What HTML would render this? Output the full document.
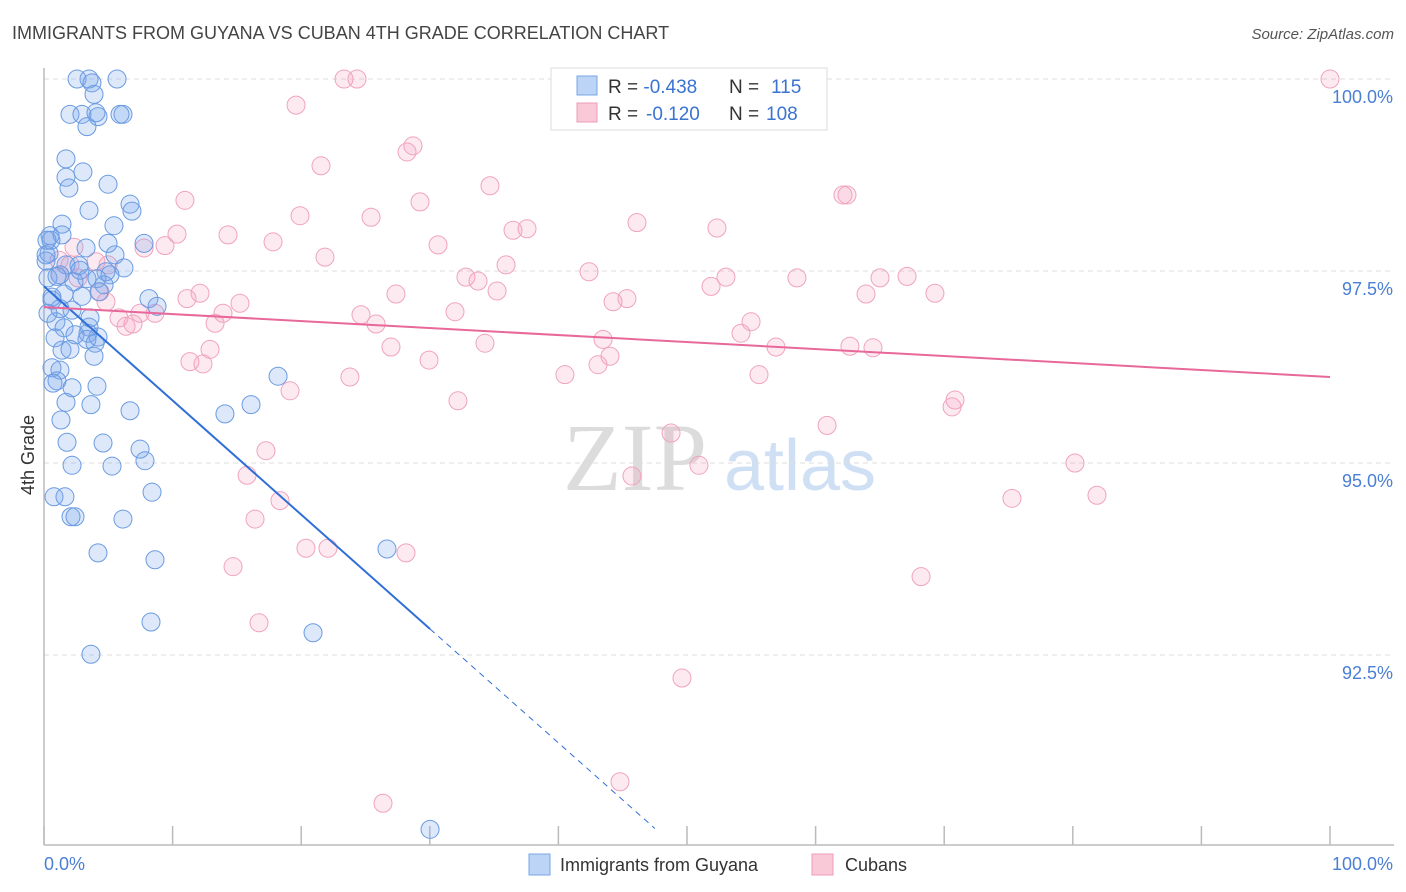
<!DOCTYPE html>
<html><head><meta charset="utf-8">
<style>
body{margin:0;background:#fff;font-family:"Liberation Sans",sans-serif;}
#wrap{position:relative;width:1406px;height:892px;overflow:hidden;}
</style></head>
<body>
<div id="wrap">
<svg id="chart" width="1406" height="892" xmlns="http://www.w3.org/2000/svg">
<text x="12" y="39" font-size="18" fill="#444">IMMIGRANTS FROM GUYANA VS CUBAN 4TH GRADE CORRELATION CHART</text>
<text x="1394" y="39" font-size="15" font-style="italic" fill="#555" text-anchor="end">Source: ZipAtlas.com</text>
<g>
<text x="635" y="490" font-family="Liberation Serif,serif" font-size="96" fill="#dcdcdc" text-anchor="middle">ZIP</text>
<text x="800" y="490" font-size="72" fill="#cfe0f5" text-anchor="middle">atlas</text>
</g>
<g id="grid"></g>
<g id="axes"></g>
<g id="pinkPts"></g>
<g id="bluePts"></g>
<g id="trends"></g>
<text x="34" y="455" font-size="18" fill="#333" text-anchor="middle" transform="rotate(-90 34 455)">4th Grade</text>
<text x="44" y="870" font-size="18" fill="#4a7fd4">0.0%</text>
<text x="1393" y="870" font-size="18" fill="#4a7fd4" text-anchor="end">100.0%</text>
<g>
<rect x="551" y="68" width="276" height="62" fill="#fff" stroke="#ddd"/>
<rect x="577" y="76" width="20" height="19" fill="#bcd4f6" stroke="#7aa6e6"/>
<text x="608" y="93" font-size="19" fill="#333">R = <tspan fill="#3a73d0">-0.438</tspan><tspan x="729">N = </tspan><tspan x="771" fill="#3a73d0">115</tspan></text>
<rect x="577" y="103" width="20" height="19" fill="#f9c9d8" stroke="#ee9cb8"/>
<text x="608" y="120" font-size="19" fill="#333">R = <tspan x="646" fill="#3a73d0">-0.120</tspan><tspan x="729">N = </tspan><tspan x="766" fill="#3a73d0">108</tspan></text>
</g>
<g>
<rect x="529" y="854" width="21" height="21" fill="#bcd4f6" stroke="#7aa6e6"/>
<text x="560" y="871" font-size="18" fill="#333">Immigrants from Guyana</text>
<rect x="812" y="854" width="21" height="21" fill="#f9c9d8" stroke="#ee9cb8"/>
<text x="845" y="871" font-size="18" fill="#333">Cubans</text>
</g>
</svg>
</div>
<script>
const yTicks=[100,97.5,95,92.5];
const yTickLabels=["100.0%","97.5%","95.0%","92.5%"];
const xTicks=[0,10,20,30,40,50,60,70,80,90,100];
const blueX=[2.57,3.50,5.68,3.73,3.89,2.02,2.95,4.20,3.34,6.14,1.71,3.03,1.71,4.98,1.94,3.50,6.69,6.84,1.40,5.44,0.47,1.40,3.27,7.78,5.52,0.39,1.71,2.72,0.16,6.22,4.82,5.13,3.34,4.12,1.24,0.31,2.33,4.67,1.56,2.95,4.28,8.16,8.79,0.62,0.31,1.24,2.18,0.93,3.50,3.42,1.56,2.41,4.20,3.34,3.97,0.86,1.40,2.02,3.89,0.62,1.24,1.01,0.70,4.12,2.18,1.71,3.65,6.69,1.32,16.10,14.07,18.20,1.79,4.59,7.47,2.18,5.29,7.85,8.40,0.78,1.63,2.10,2.41,6.14,4.20,8.63,8.32,3.65,20.92,26.67,30.02,5.91,4.04,4.98,2.80,0.16,0.54,0.23,0.62,3.58,1.01];
const blueY=[100,100,100,99.95,99.80,99.54,99.54,99.51,99.38,99.54,98.96,98.79,98.72,98.63,98.58,98.29,98.37,98.28,98.11,98.09,97.96,97.97,97.80,97.86,97.71,97.73,97.58,97.57,97.63,97.54,97.49,97.45,97.40,97.40,97.45,97.41,97.36,97.32,97.20,97.17,97.23,97.14,97.04,97.16,96.95,97.01,96.99,96.84,96.77,96.69,96.76,96.67,96.64,96.61,96.56,96.63,96.47,96.48,96.39,96.24,96.21,96.07,96.04,96.00,95.98,95.79,95.76,95.68,95.56,95.76,95.64,96.13,95.27,95.26,95.18,94.97,94.96,95.03,94.62,94.56,94.56,94.30,94.30,94.27,93.83,93.74,92.93,92.51,92.79,93.88,90.23,99.54,99.56,97.86,97.51,97.71,97.90,97.90,97.12,96.89,97.43,97.17];
const pinkX=[23.33,24.34,100,19.60,28.23,28.69,21.54,34.68,62.13,62.44,10.96,29.24,19.91,25.43,46.11,52.33,36.47,37.56,14.31,10.34,17.81,30.64,7.78,9.41,21.85,2.33,1.17,35.93,42.38,32.81,33.75,58.55,65.01,67.11,53.03,51.87,63.92,69.28,35.23,27.37,45.33,44.25,12.13,15.24,11.12,4.82,13.92,31.96,24.65,25.82,7.47,8.63,5.83,6.92,6.38,13.30,54.98,54.20,43.47,34.29,26.98,12.91,56.92,62.67,64.46,44.01,43.08,29.94,11.35,12.36,40.51,55.60,23.79,19.13,32.19,70.84,70.61,60.89,48.76,17.26,15.79,45.72,50.93,80.17,81.88,75.27,18.35,16.41,20.37,22.08,28.15,14.70,68.20,16.72,49.61,44.79,26.36,2.02,4.04,4.98,4.35,1.24,2.64];
const pinkY=[100,100,100,99.66,99.05,99.13,98.87,98.61,98.49,98.49,98.42,98.40,98.22,98.20,98.13,98.06,98.03,98.05,97.97,97.98,97.88,97.84,97.80,97.83,97.68,97.81,97.64,97.58,97.49,97.42,97.37,97.41,97.41,97.43,97.42,97.30,97.20,97.21,97.24,97.20,97.14,97.10,97.21,97.08,97.14,97.10,96.95,96.97,96.93,96.81,96.95,96.95,96.89,96.81,96.78,96.82,96.84,96.69,96.61,96.56,96.51,96.48,96.51,96.52,96.50,96.39,96.28,96.34,96.32,96.29,96.15,96.15,96.12,95.94,95.81,95.82,95.73,95.49,95.39,95.16,94.84,94.83,94.97,95.00,94.58,94.54,94.51,94.27,93.89,93.89,93.83,93.65,93.52,92.92,92.20,90.85,90.57,97.58,97.62,97.58,97.23,97.45,97.41];
const blueTrend=[97.30,-0.1486];   // intercept, slope (per % x)
const pinkTrend=[97.03,-0.0091];
const blueSolidEnd=30.02, blueDashEnd=47.5;

const X0=44,X1=1330,Y100=79,PXPER=76.8;
const xs=v=>X0+(v/100)*(X1-X0);
const ys=v=>Y100+(100-v)*PXPER;
const NS="http://www.w3.org/2000/svg";
function mk(tag,attrs,parent){const e=document.createElementNS(NS,tag);for(const k in attrs)e.setAttribute(k,attrs[k]);parent.appendChild(e);return e;}

const grid=document.getElementById('grid');
yTicks.forEach((t,i)=>{
  const l=mk('line',{x1:X0,x2:1394,y1:ys(t),y2:ys(t),stroke:'#dcdcdc','stroke-dasharray':'5,4'},grid);
  
  
  const tx=mk('text',{x:1393,y:ys(t)+24,'font-size':18,fill:'#4a7fd4','text-anchor':'end'},grid);
  tx.textContent=yTickLabels[i];
  
  
});
const axes=document.getElementById('axes');
const ya=mk('line',{x1:X0,x2:X0,y1:68,y2:845,stroke:'#bbb','stroke-width':1.5},axes);


const xa=mk('line',{x1:X0,x2:1394,y1:845,y2:845,stroke:'#bbb','stroke-width':1.5},axes);


xTicks.forEach(t=>{
  const tk=mk('line',{x1:xs(t),x2:xs(t),y1:826,y2:845,stroke:'#bbb','stroke-width':1.5},axes);
  
  
});
const pg=document.getElementById('pinkPts');
pinkX.forEach((v,i)=>{
  const c=mk('circle',{cx:xs(v),cy:ys(pinkY[i]),r:9,fill:'rgba(244,160,190,0.22)',stroke:'#f0a3bd','stroke-width':1},pg);
  
  
});
const bg=document.getElementById('bluePts');
blueX.forEach((v,i)=>{
  const c=mk('circle',{cx:xs(v),cy:ys(blueY[i]),r:9,fill:'rgba(120,165,235,0.25)',stroke:'#6a9be2','stroke-width':1},bg);
  
  
});
const tr=document.getElementById('trends');
const bt=x=>blueTrend[0]+blueTrend[1]*x, pt=x=>pinkTrend[0]+pinkTrend[1]*x;
const l1=mk('line',{x1:xs(0),y1:ys(bt(0)),x2:xs(blueSolidEnd),y2:ys(bt(blueSolidEnd)),stroke:'#2f6fd6','stroke-width':2},tr);


const l2=mk('line',{x1:xs(blueSolidEnd),y1:ys(bt(blueSolidEnd)),x2:xs(blueDashEnd),y2:ys(bt(blueDashEnd)),stroke:'#2f6fd6','stroke-width':1,'stroke-dasharray':'6,5'},tr);


const l3=mk('line',{x1:xs(0),y1:ys(pt(0)),x2:xs(100),y2:ys(pt(100)),stroke:'#e8689a','stroke-width':2},tr);


</script>
</body></html>
